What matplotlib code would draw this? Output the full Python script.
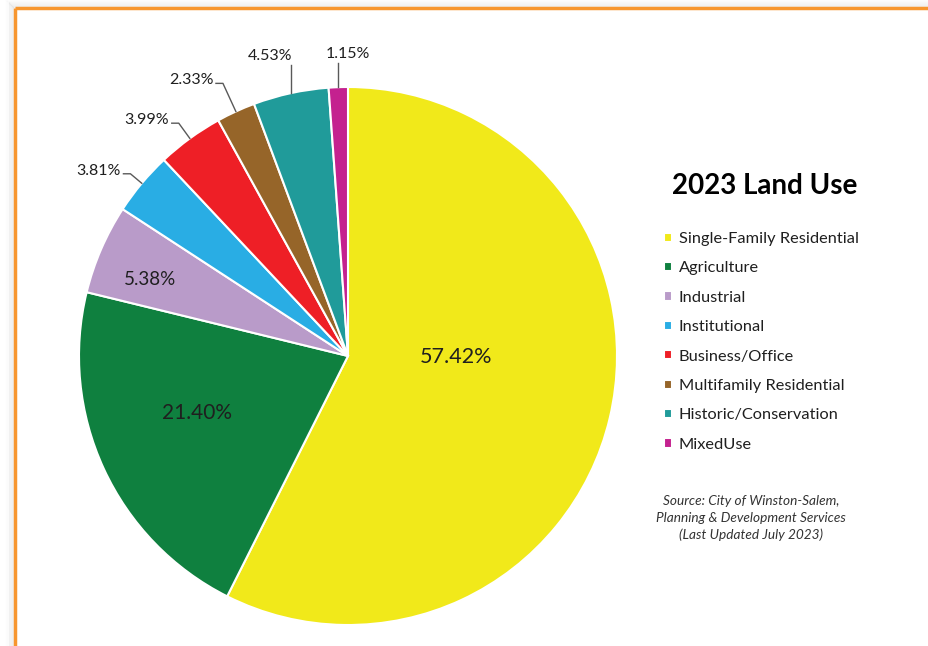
import numpy as np
import matplotlib.pyplot as plt
from matplotlib.lines import Line2D

plt.rcParams['font.family'] = ['Lato', 'DejaVu Sans']

categories = ['Single-Family Residential', 'Agriculture', 'Industrial', 'Institutional',
              'Business/Office', 'Multifamily Residential', 'Historic/Conservation', 'MixedUse']
shares = [57.42, 21.40, 5.38, 3.81, 3.99, 2.33, 4.53, 1.15]
colors = ['#F1E91A', '#0F803F', '#B99BC9', '#29ADE4', '#EE1F26', '#966529', '#209B9A', '#C4218F']

W, H = 929, 646
fig = plt.figure(figsize=(W / 100, H / 100), dpi=100)

# frame with soft shadow (top and left edges only, like the cropped screenshot)
for i in range(8):
    a = 0.10 * (1 - i / 8)
    fig.add_artist(Line2D([(15 - 1.5 - i) / W, 1], [1 - (8 - 1.5 - i) / H] * 2,
                          transform=fig.transFigure, color='gray', alpha=a, lw=1))
    fig.add_artist(Line2D([(15 - 1.5 - i) / W] * 2, [0, 1 - (8 - 1.5 - i) / H],
                          transform=fig.transFigure, color='gray', alpha=a, lw=1))
fig.add_artist(Line2D([15 / W, 1], [1 - 8 / H] * 2, transform=fig.transFigure,
                      color='#F7962F', lw=2.5, solid_capstyle='butt'))
fig.add_artist(Line2D([15 / W] * 2, [0, 1 - 8 / H], transform=fig.transFigure,
                      color='#F7962F', lw=2.5, solid_capstyle='butt'))

# pie axes: centre (348, 356) px, radius 269 px
cx, cy, r = 348, 356, 269
ax = fig.add_axes([(cx - r) / W, (H - cy - r) / H, 2 * r / W, 2 * r / H])
wedges, _ = ax.pie(shares, colors=colors, startangle=90, counterclock=False, radius=1,
                   wedgeprops=dict(edgecolor='white', linewidth=1.5))
ax.set_xlim(-1, 1)
ax.set_ylim(-1, 1)
ax.set_aspect('equal')
ax.axis('off')

lab_color = '#1f1f1f'
mids = [np.deg2rad((w.theta1 + w.theta2) / 2) for w in wedges]

# labels inside the slices: (radius, angle nudge in degrees, font size)
inside = {0: (0.40, 13, 15.5), 1: (0.60, -4, 15), 2: (0.79, 2.4, 13.5)}
for i, (rad, nudge, fs) in inside.items():
    t = mids[i] + np.deg2rad(nudge)
    ax.text(rad * np.cos(t), rad * np.sin(t), f'{shares[i]:.2f}%', ha='center', va='center',
            fontsize=fs, color=lab_color)

# labels to the left with a short stub: knee radius
left = {3: 1.055, 4: 1.07, 5: 1.115}
stub = 0.026
for i, kr in left.items():
    t = mids[i]
    ex, ey = np.cos(t), np.sin(t)
    kx, ky = kr * np.cos(t), kr * np.sin(t)
    ax.plot([ex, kx, kx - stub], [ey, ky, ky], color='#595959', lw=1, clip_on=False)
    ax.text(kx - stub - 0.01, ky + 0.012, f'{shares[i]:.2f}%', ha='right', va='center',
            fontsize=11.5, color=lab_color)

# labels above with a vertical leader: (top of leader, text x shift, alignment)
top = {6: (1.08, 0.005, 'right'), 7: (1.09, 0.035, 'center')}
for i, (ty, dx, ha) in top.items():
    t = mids[i]
    ex, ey = np.cos(t), np.sin(t)
    ax.plot([ex, ex], [ey, ty], color='#595959', lw=1, clip_on=False)
    ax.text(ex + dx, ty + 0.008, f'{shares[i]:.2f}%', ha=ha, va='bottom',
            fontsize=11.5, color=lab_color)

fig.text(765 / W, 1 - 186 / H, '2023 Land Use', ha='center', va='center',
         fontsize=20, fontweight='bold', color='black')

fig.legend(wedges, categories, loc='upper left', bbox_to_anchor=(664 / W, 1 - 232 / H),
           frameon=False, fontsize=11.8, handlelength=0.5, handleheight=0.5,
           handletextpad=0.4, labelspacing=0.94, borderaxespad=0, borderpad=0,
           labelcolor='#1f1f1f')

fig.text(751 / W, 1 - 518 / H,
         'Source: City of Winston-Salem,\nPlanning & Development Services\n(Last Updated July 2023)',
         ha='center', va='center', fontsize=9.8, style='italic', color='#333333',
         multialignment='center', linespacing=1.42)

fig.savefig('out.png', dpi=100)
